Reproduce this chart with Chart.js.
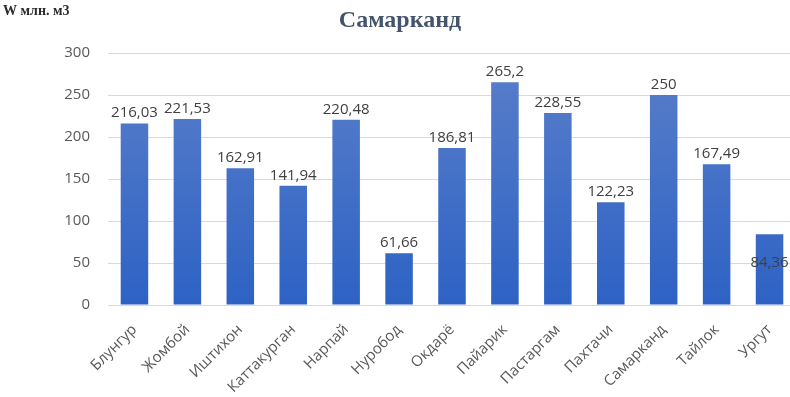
<!DOCTYPE html>
<html>
<head>
<meta charset="utf-8">
<script src="https://cdn.jsdelivr.net/npm/chart.js@4"></script>
<style>
  html, body { margin: 0; padding: 0; background: #ffffff; overflow: hidden; }
  #wrap { width: 796px; height: 397px; position: relative; }
</style>
</head>
<body>
<div id="wrap"><canvas id="chart"></canvas></div>
<script>
  const districts = ['Блунгур', 'Жомбой', 'Иштихон', 'Каттакурган', 'Нарпай', 'Нуробод', 'Окдарё', 'Пайарик', 'Пастаргам', 'Пахтачи', 'Самарканд', 'Тайлок', 'Ургут'];
  const volumes = [216.03, 221.53, 162.91, 141.94, 220.48, 61.66, 186.81, 265.2, 228.55, 122.23, 250, 167.49, 84.36];
  const yTicks = [0, 50, 100, 150, 200, 250, 300];
  const labelInside = [false, false, false, false, false, false, false, false, false, false, false, false, true];

  const chartTitle = 'Самарканд';
  const unitLabel = 'W млн. м3';

  function fmt(v) {
    return String(v).replace('.', ',');
  }

  function barGradient(context) {
    const chart = context.chart;
    const area = chart.chartArea;
    if (!area) return '#3f6cc6';
    const el = context.element;
    const top = el && Number.isFinite(el.y) ? el.y : area.top;
    const g = chart.ctx.createLinearGradient(0, top, 0, area.bottom);
    g.addColorStop(0, '#5b7fca');
    g.addColorStop(1, '#2d62c4');
    return g;
  }

  const textPlugin = {
    id: 'texts',
    afterDraw(chart) {
      const ctx = chart.ctx;
      ctx.save();
      ctx.fillStyle = '#2b2b2b';
      ctx.font = 'bold 14px "Liberation Serif", "Times New Roman", serif';
      ctx.textAlign = 'left';
      ctx.textBaseline = 'middle';
      ctx.fillText(unitLabel, 3, 11);
      ctx.fillStyle = '#44546a';
      ctx.font = 'bold 24px "Liberation Serif", "Times New Roman", serif';
      ctx.textAlign = 'center';
      ctx.fillText(chartTitle, 400, 21);

      const meta = chart.getDatasetMeta(0);
      ctx.font = '15px "Open Sans", "Noto Sans", sans-serif';
      ctx.fillStyle = '#404040';
      meta.data.forEach((bar, i) => {
        const text = fmt(volumes[i]);
        if (labelInside[i]) {
          ctx.textBaseline = 'middle';
          ctx.fillText(text, bar.x, (bar.y + bar.base) / 2 - 7);
        } else {
          ctx.textBaseline = 'bottom';
          ctx.fillText(text, bar.x, bar.y - 3);
        }
      });
      ctx.restore();
    }
  };

  new Chart(document.getElementById('chart'), {
    type: 'bar',
    data: {
      labels: districts,
      datasets: [{
        data: volumes,
        backgroundColor: barGradient,
        barPercentage: 0.52,
        categoryPercentage: 1
      }]
    },
    options: {
      responsive: true,
      maintainAspectRatio: false,
      animation: false,
      layout: { padding: { top: 53, right: 0, left: 0, bottom: 0 } },
      plugins: {
        legend: { display: false },
        tooltip: { enabled: false }
      },
      scales: {
        x: {
          grid: { display: false },
          border: { display: false },
          ticks: {
            minRotation: 45,
            maxRotation: 45,
            autoSkip: false,
            padding: 8,
            color: '#595959',
            font: { family: '"Open Sans", "Noto Sans", sans-serif', size: 15 }
          },
          afterFit(scale) { scale.height = 92; }
        },
        y: {
          min: 0,
          max: 300,
          afterBuildTicks(scale) { scale.ticks = yTicks.map((v) => ({ value: v })); },
          grid: { color: '#d9d9d9', drawTicks: false, lineWidth: 1 },
          border: { display: false },
          ticks: {
            padding: 18,
            color: '#595959',
            font: { family: '"Open Sans", "Noto Sans", sans-serif', size: 15 }
          },
          afterFit(scale) { scale.width = 108; }
        }
      }
    },
    plugins: [textPlugin]
  });
</script>
</body>
</html>
